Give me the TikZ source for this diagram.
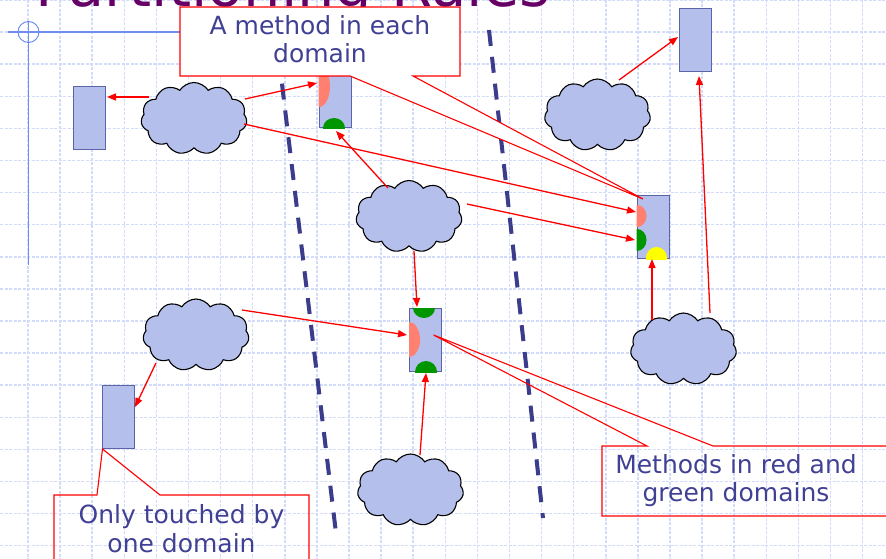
\documentclass[tikz,border=0pt]{standalone}
\usepackage{fontspec}
\setmainfont{DejaVu Sans}
\usetikzlibrary{shapes.symbols,arrows.meta,calc}

\definecolor{gridblue}{RGB}{210,220,250}
\definecolor{cloudblue}{RGB}{181,191,235}
\definecolor{boxedge}{RGB}{92,100,168}
\definecolor{navy}{RGB}{60,60,140}
\definecolor{labelblue}{RGB}{64,64,148}
\definecolor{titlepurple}{RGB}{102,0,102}
\definecolor{crossblue}{RGB}{112,142,240}
\definecolor{salmonred}{RGB}{255,128,112}
\definecolor{domgreen}{RGB}{0,150,0}
\definecolor{domyellow}{RGB}{255,255,0}

\begin{document}
\begin{tikzpicture}[x=1pt,y=-1pt,
  gridline/.style={draw=gridblue, line width=1.5pt, dash pattern=on 3pt off 1.5pt},
  puff/.style={cloud, cloud puffs=11, cloud puff arc=115, aspect=1.5, draw=black,
    line width=1.1pt, fill=cloudblue, minimum width=106pt, minimum height=72pt, inner sep=0pt},
  objbox/.style={rectangle, draw=boxedge, line width=1pt, fill=cloudblue,
    minimum width=32pt, minimum height=63pt, inner sep=0pt},
  arr/.style={draw=red, line width=1.3pt, -{Triangle[length=9pt,width=7pt]}},
  divider/.style={draw=navy, line width=4pt, dash pattern=on 16pt off 11pt},
  calloutline/.style={draw=red, line width=1.1pt, line join=miter},
  calltext/.style={font=\fontsize{25}{28.5}\selectfont, text=labelblue, align=center, inner sep=0pt},
]
\useasboundingbox (0,0) rectangle (886,559);
\clip (0,0) rectangle (886,559);

% background grid
\foreach \k in {0,...,26} \draw[gridline] ({28+32.1*\k},0) -- ({28+32.1*\k},559);
\foreach \k in {0,...,17} \draw[gridline] (0,{32.1*\k}) -- (886,{32.1*\k});

% title
\node[anchor=base west, inner sep=0pt, font=\fontsize{59}{59}\selectfont, text=titlepurple]
  (title) at (35,7) {Partitioning Rules};

% crosshair mark
\coordinate (xhair) at (28.5,32);
\draw[crossblue, line width=1.5pt] (28.5,21) -- (28.5,265);
\draw[crossblue, line width=1.5pt] (8,32) -- (185,32);
\draw[crossblue, line width=1pt] (xhair) circle[radius=10.5];

% domain boundaries
\draw[divider] (275.5,30) -- (336,533);
\draw[divider] (489,30) -- (543,518);

% clouds
\node[puff] (cA) at (194,118.5) {};
\node[puff] (cB) at (597.5,115) {};
\node[puff] (cC) at (409,216.5) {};
\node[puff] (cD) at (196,335) {};
\node[puff] (cE) at (683.5,349) {};
\node[puff] (cF) at (410.5,490) {};

% objects
\node[objbox] (r1) at (89,118.5) {};
\node[objbox] (r2) at (335,96.5) {};
\node[objbox] (r3) at (695.5,40.5) {};
\node[objbox] (r4) at (653,227) {};
\node[objbox] (r5) at (425.5,340) {};
\node[objbox] (r6) at (118,417) {};

% methods inside the objects
\begin{scope}
  \clip (r2.south west) rectangle (r2.north east);
  \fill[salmonred] ([shift={(-16,-10)}]r2.center) ellipse[x radius=11, y radius=20.5];
  \fill[domgreen] ([shift={(-1,31.5)}]r2.center) ellipse[x radius=11, y radius=10];
\end{scope}
\begin{scope}
  \clip (r4.south west) rectangle (r4.north east);
  \fill[salmonred] ([shift={(-16,-11)}]r4.center) ellipse[x radius=9.5, y radius=11];
  \fill[domgreen] ([shift={(-16,13)}]r4.center) ellipse[x radius=9.5, y radius=11];
  \fill[domyellow] ([shift={(3.5,31)}]r4.center) ellipse[x radius=10.5, y radius=11];
\end{scope}
\begin{scope}
  \clip (r5.south west) rectangle (r5.north east);
  \fill[domgreen] ([shift={(-1.5,-32)}]r5.center) ellipse[x radius=11, y radius=10];
  \fill[salmonred] ([shift={(-16.5,-0.5)}]r5.center) ellipse[x radius=11, y radius=17.5];
  \fill[domgreen] ([shift={(0.5,32)}]r5.center) ellipse[x radius=11, y radius=11];
\end{scope}

% calls
\draw[arr] ([shift={(-45,-21.5)}]cA.center) -- ([shift={(18,-21.5)}]r1.center);
\draw[arr] ([shift={(51,-19.5)}]cA.center) -- ([shift={(-18,-13.5)}]r2.center);
\draw[arr] ([shift={(50,5.5)}]cA.center) -- ([shift={(-17,-15)}]r4.center);
\draw[arr] ([shift={(-21,-28.5)}]cC.center) -- ([shift={(1,34.5)}]r2.center);
\draw[arr] ([shift={(58,-12.5)}]cC.center) -- ([shift={(-18,13)}]r4.center);
\draw[arr] ([shift={(5,34.5)}]cC.center) -- ([shift={(-8.5,-33)}]r5.center);
\draw[arr] ([shift={(46,-25)}]cD.center) -- ([shift={(-18.5,-5)}]r5.center);
\draw[arr] ([shift={(-40,28)}]cD.center) -- ([shift={(17,-10)}]r6.center);
\draw[arr] ([shift={(9.5,-35)}]cF.center) -- ([shift={(0.5,33)}]r5.center);
\draw[arr] ([shift={(21.5,-35)}]cB.center) -- ([shift={(-17.5,-3.5)}]r3.center);
\draw[arr] ([shift={(-31.5,-29)}]cE.center) -- ([shift={(-1,32)}]r4.center);
\draw[arr] ([shift={(26.5,-36)}]cE.center) -- ([shift={(3.5,35.5)}]r3.center);

% callouts
\coordinate (tipA) at ([shift={(-10,-28)}]r4.center);
\coordinate (tipB) at ([shift={(8,-5)}]r5.center);
\coordinate (tipC) at ([shift={(1,0)}]r6.south west);

\filldraw[calloutline, fill=white] (180,7) -- (460,7) -- (460,76) -- (413,76) -- (tipA)
  -- (350,76) -- (180,76) -- cycle;
\node[calltext, anchor=base] (t1) at (320,63) {A method in each\\domain};

\draw[calloutline] (602,446) -- (647,446) -- (tipB) -- (713,446) -- (895,446)
  -- (895,516) -- (602,516) -- cycle;
\node[calltext, anchor=base] (t2) at (736,501.5) {Methods in red and\\green domains};

\draw[calloutline] (54,495) -- (97,495) -- (tipC) -- (160,495) -- (309,495)
  -- (309,570) -- (54,570) -- cycle;
\node[calltext, anchor=base] (t3) at (181.5,552) {Only touched by\\one domain};
\end{tikzpicture}
\end{document}
